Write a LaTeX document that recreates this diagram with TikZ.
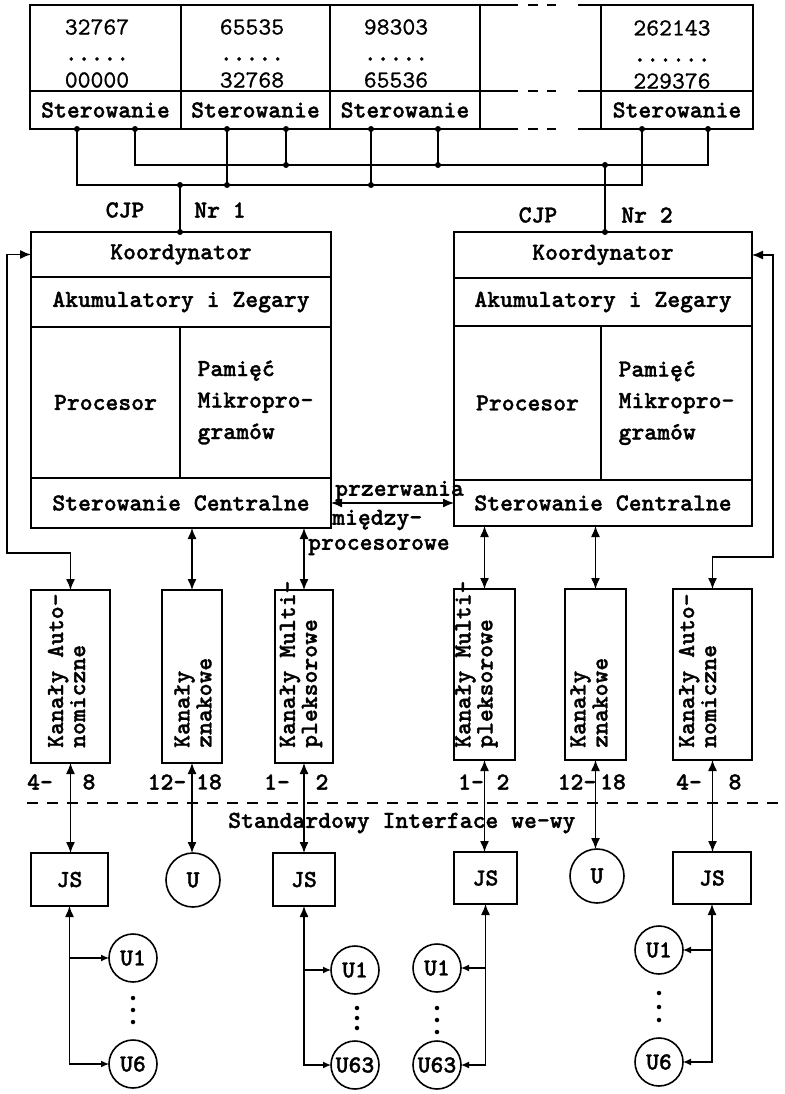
\documentclass[tikz,border=0pt]{standalone}
\usepackage{fontspec}
\usetikzlibrary{arrows.meta,calc}
\newfontfamily\typewb{lmmonolt10-bold.otf}[FakeBold=1.3]
\newfontfamily\typewn{lmmono10-regular.otf}[FakeBold=0.8]
\newcommand\mytt{\fontsize{24.5}{31.5}\selectfont\typewb}
\newcommand\myttn{\fontsize{24.5}{31.5}\selectfont\typewn}
\newcommand\myttr{\fontsize{24.5}{22}\selectfont\typewb}
\begin{document}
\begin{tikzpicture}[x=1pt,y=-1pt,
  box/.style={draw, line width=1.6pt, inner sep=0pt, outer sep=0pt, anchor=north west, font=\mytt},
  conn/.style={line width=1.3pt},
  darr/.style={conn,{Latex[length=11pt,width=9pt]}-{Latex[length=11pt,width=9pt]}},
  mixarr/.style={conn,{Latex[length=11pt,width=9pt]}-{Latex[length=8pt,width=7pt]}},
  sarr/.style={conn,-{Latex[length=8pt,width=7pt]}},
  lbl/.style={font=\mytt, inner sep=0pt},
  num/.style={font=\myttn, inner sep=0pt},
  vlbl/.style={font=\myttr, inner sep=0pt, rotate=90, anchor=west, align=left},
  dev/.style={circle, draw, line width=1.6pt, inner sep=0pt, outer sep=0pt, minimum size=48pt, font=\mytt},
  bigdev/.style={dev, minimum size=54pt},
  jdot/.style={circle, fill, inner sep=0pt, minimum size=6pt},
  vdot/.style={circle, fill, inner sep=0pt, minimum size=4.5pt},
]
\useasboundingbox (0,0) rectangle (784,1094);

% ---------------- memory modules
\node[box, minimum width=151pt, minimum height=86pt] (m1) at (30,5) {};
\node[box, minimum width=149pt, minimum height=86pt] (m2) at (181,5) {};
\node[box, minimum width=150pt, minimum height=86pt] (m3) at (330,5) {};
\node[box, minimum width=152pt, minimum height=86pt] (m4) at (601,5) {};
\node[box, minimum width=151pt, minimum height=38pt] (s1) at (30,91) {Sterowanie};
\node[box, minimum width=149pt, minimum height=38pt] (s2) at (181,91) {Sterowanie};
\node[box, minimum width=150pt, minimum height=38pt] (s3) at (330,91) {Sterowanie};
\node[box, minimum width=152pt, minimum height=38pt] (s4) at (601,91) {Sterowanie};
\foreach \yy in {5,91,129}
  \draw[line width=1.6pt] (480,\yy) -- (518,\yy) (528,\yy) -- (538,\yy) (547,\yy) -- (556,\yy) (578,\yy) -- (601,\yy);

\node[num] (n1a) at (97,27) {32767};
\node[lbl] (n1b) at (97,59) {.....};
\node[num] (n1c) at (97,80) {00000};
\node[num] (n2a) at (252,27) {65535};
\node[lbl] (n2b) at (252,59) {.....};
\node[num] (n2c) at (252,80) {32768};
\node[num] (n3a) at (396,27) {98303};
\node[lbl] (n3b) at (396,59) {.....};
\node[num] (n3c) at (396,80) {65536};
\node[num] (n4a) at (672,28) {262143};
\node[lbl] (n4b) at (672,60) {......};
\node[num] (n4c) at (672,81) {229376};

% ---------------- bus
\foreach \n/\x in {t1/77,t2/135,t3/227,t4/286,t5/371,t6/438,t7/642,t8/708}
  \coordinate (\n) at (\x,129);
\coordinate (jA) at (180,185);
\coordinate (jB) at (605,165);
\draw[conn] (t1) -- ++(0,56) -| (t7);
\draw[conn] (t2) -- ++(0,36) -| (t8);
\draw[conn] (t3) -- ++(0,56);
\draw[conn] (t5) -- ++(0,56);
\draw[conn] (t4) -- ++(0,36);
\draw[conn] (t6) -- ++(0,36);

% ---------------- CJP 1
\node[box, minimum width=300pt, minimum height=45pt] (c1k) at (31,232) {Koordynator};
\node[box, minimum width=300pt, minimum height=50pt] (c1a) at (31,277) {Akumulatory i Zegary};
\node[box, minimum width=149pt, minimum height=151pt] (c1p) at (31,327) {Procesor};
\node[box, minimum width=151pt, minimum height=151pt, align=left] (c1m) at (180,327) {Pamięć\\Mikropro-\\gramów};
\node[box, minimum width=300pt, minimum height=50pt] (c1s) at (31,478) {Sterowanie Centralne};

% ---------------- CJP 2
\node[box, minimum width=298pt, minimum height=46pt] (c2k) at (454,232) {Koordynator};
\node[box, minimum width=298pt, minimum height=48pt] (c2a) at (454,278) {Akumulatory i Zegary};
\node[box, minimum width=147pt, minimum height=154pt] (c2p) at (454,326) {Procesor};
\node[box, minimum width=151pt, minimum height=154pt, align=left] (c2m) at (601,326) {Pamięć\\Mikropro-\\gramów};
\node[box, minimum width=298pt, minimum height=46pt] (c2s) at (454,480) {Sterowanie Centralne};

\draw[conn] (jA) -- (jA |- c1k.north);
\draw[conn] (jB) -- (jB |- c2k.north);
\foreach \p in {t1,t2,t3,t4,t5,t6,t7,t8,jA,jB}
  \node[jdot] at (\p) {};
\node[jdot] at (227,185) {};
\node[jdot] at (371,185) {};
\node[jdot] at (286,165) {};
\node[jdot] at (438,165) {};
\node[jdot] at (jA |- c1k.north) {};
\node[jdot] at (jB |- c2k.north) {};

\node[lbl] (cjp1) at (125,210) {CJP};
\node[lbl] (nr1) at (220,210) {Nr 1};
\node[lbl] (cjp2) at (538,215) {CJP};
\node[lbl] (nr2) at (647,215) {Nr 2};

% ---------------- interprocessor
\draw[darr] (c1s.east) -- (c2s.west);
\node[lbl, anchor=west] (pz1) at (335,491) {przerwania};
\node[lbl, anchor=west] (pz2) at (332,520) {między-};
\node[lbl, anchor=west] (pz3) at (308,547) {procesorowe};

% ---------------- channels
\node[box, minimum width=79pt, minimum height=173pt] (ch1) at (31,590) {};
\node[box, minimum width=60pt, minimum height=173pt] (ch2) at (162,590) {};
\node[box, minimum width=58pt, minimum height=173pt] (ch3) at (275,590) {};
\node[box, minimum width=61pt, minimum height=171pt] (ch4) at (454,589) {};
\node[box, minimum width=61pt, minimum height=171pt] (ch5) at (565,589) {};
\node[box, minimum width=79pt, minimum height=171pt] (ch6) at (673,589) {};

\node[vlbl] (ct1) at (66.5,748) {Kanały Auto-\\nomiczne};
\node[vlbl] (ct2) at (193,748) {Kanały\\znakowe};
\node[vlbl] (ct3) at (301,748) {Kanały Multi-\\pleksorowe};
\node[vlbl] (ct4) at (476.5,748) {Kanały Multi-\\pleksorowe};
\node[vlbl] (ct5) at (589,748) {Kanały\\znakowe};
\node[vlbl] (ct6) at (697.5,748) {Kanały Auto-\\nomiczne};

% feedback loops
\coordinate (lf) at (7,553);
\coordinate (rf) at (773,557);
\draw[darr] (c1k.west) -| (lf) -| (ch1.north);
\draw[darr] (c2k.east) -| (rf) -| (ch6.north);

% CJP -> channels
\draw[darr] (c1s.south -| ch2.north) -- (ch2.north);
\draw[darr] (c1s.south -| ch3.north) -- (ch3.north);
\draw[darr] (c2s.south -| ch4.north) -- (ch4.north);
\draw[darr] (c2s.south -| ch5.north) -- (ch5.north);

% channel numbers
\node[lbl] (r1a) at (40,782) {4-};
\node[lbl] (r1b) at (89,782) {8};
\node[lbl] (r2a) at (167,782) {12-};
\node[lbl] (r2b) at (209,782) {18};
\node[lbl] (r3a) at (277,782) {1-};
\node[lbl] (r3b) at (322,782) {2};
\node[lbl] (r4a) at (471,782) {1-};
\node[lbl] (r4b) at (503,782) {2};
\node[lbl] (r5a) at (577,782) {12-};
\node[lbl] (r5b) at (613,782) {18};
\node[lbl] (r6a) at (689,782) {4-};
\node[lbl] (r6b) at (735,782) {8};

% interface line
\draw[line width=1.2pt, dash pattern=on 11pt off 9pt] (27,803) -- (784,803);
\node[lbl, anchor=west] (std) at (228,823) {Standardowy Interface we-wy};

% ---------------- devices
\node[box, minimum width=77pt, minimum height=53pt] (js1) at (31,853) {JS};
\node[bigdev] (u1) at (193,880) {U};
\node[box, minimum width=62pt, minimum height=53pt] (js2) at (273,853) {JS};
\node[box, minimum width=63pt, minimum height=52pt] (js3) at (454,852) {JS};
\node[bigdev] (u2) at (597,876) {U};
\node[box, minimum width=78pt, minimum height=52pt] (js4) at (673,852) {JS};

\draw[darr] (ch1.south) -- (ch1.south |- js1.north);
\draw[darr] (ch2.south) -- (ch2.south |- u1.north);
\draw[darr] (ch3.south) -- (ch3.south |- js2.north);
\draw[darr] (ch4.south) -- (ch4.south |- js3.north);
\draw[darr] (ch5.south) -- (ch5.south |- u2.north);
\draw[darr] (ch6.south) -- (ch6.south |- js4.north);

\node[dev] (u1a) at (133,958) {U1};
\node[dev] (u6a) at (133,1064) {U6};
\node[dev] (u1b) at (355,970) {U1};
\node[dev] (u63b) at (355,1065) {U63};
\node[dev] (u1c) at (437,968) {U1};
\node[dev] (u63c) at (437,1065) {U63};
\node[dev] (u1d) at (659,950) {U1};
\node[dev] (u6d) at (659,1062) {U6};

\draw[mixarr] (js1.south) |- (u6a.west);
\draw[sarr] (js1.south |- u1a.west) -- (u1a.west);
\draw[mixarr] (js2.south) |- (u63b.west);
\draw[sarr] (js2.south |- u1b.west) -- (u1b.west);
\draw[mixarr] (js3.south) |- (u63c.east);
\draw[sarr] (js3.south |- u1c.east) -- (u1c.east);
\draw[mixarr] (js4.south) |- (u6d.east);
\draw[sarr] (js4.south |- u1d.east) -- (u1d.east);

\foreach \x/\a/\b/\c in {133/998/1010/1022, 357/1008/1018/1028, 437/1008/1020/1032, 659/993/1007/1020}{
  \node[vdot] at (\x,\a) {};
  \node[vdot] at (\x,\b) {};
  \node[vdot] at (\x,\c) {};
}
\end{tikzpicture}
\end{document}
